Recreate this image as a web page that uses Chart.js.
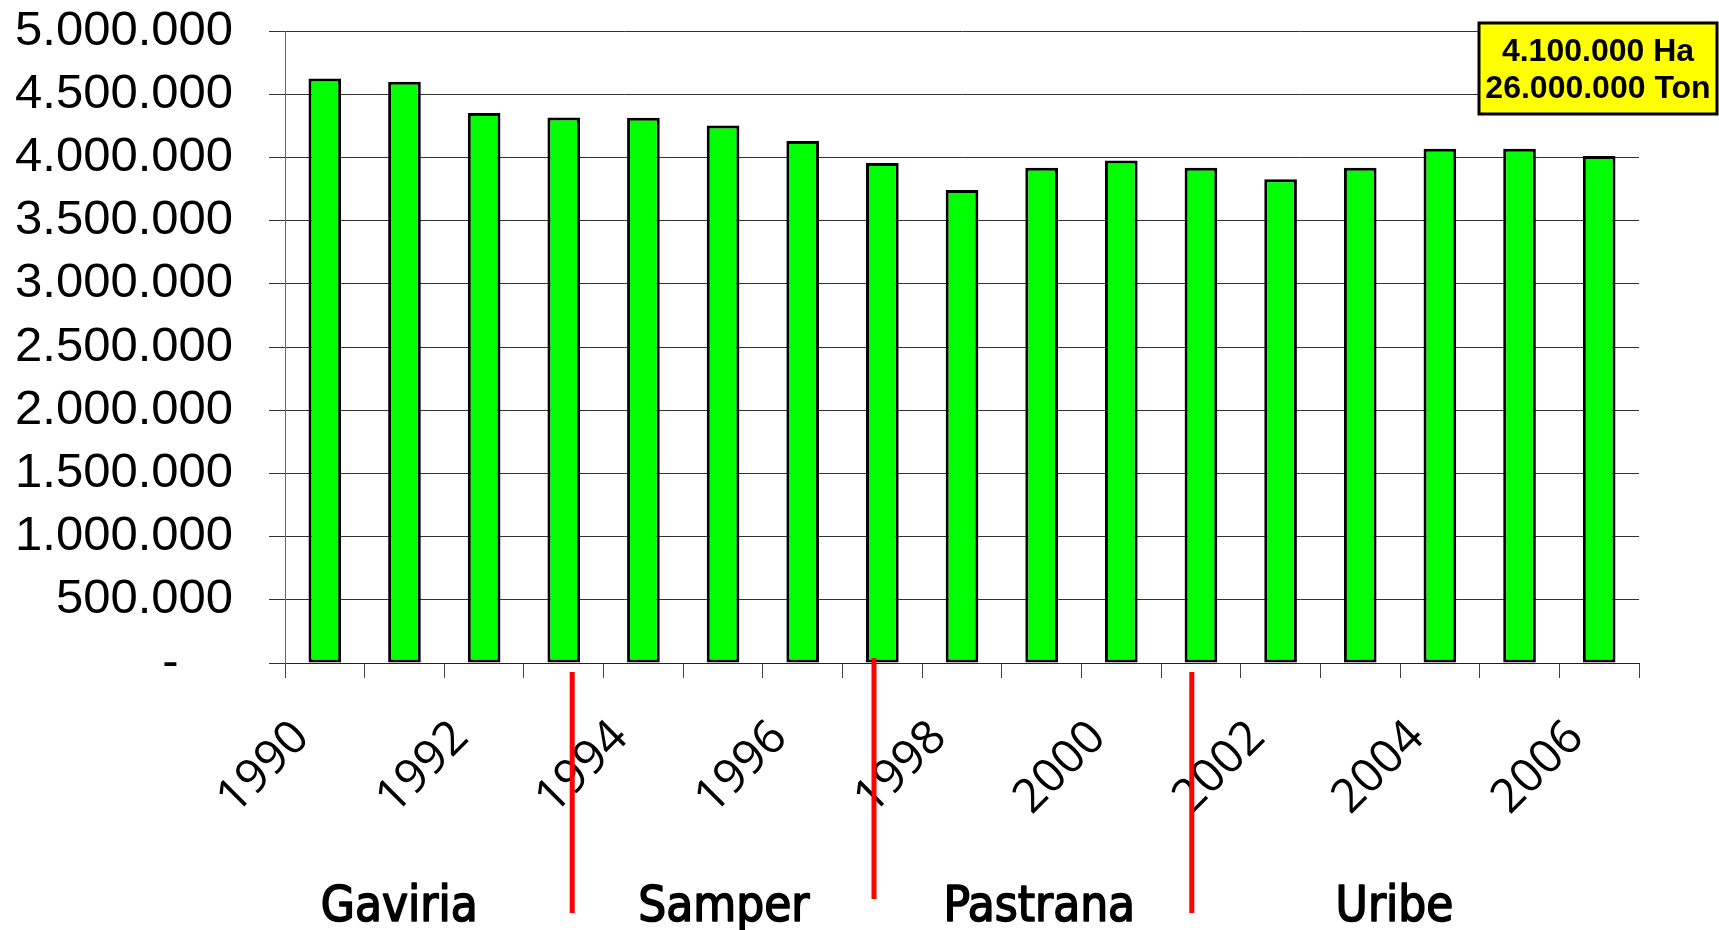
<!DOCTYPE html>
<html>
<head>
<meta charset="utf-8">
<script src="https://cdn.jsdelivr.net/npm/chart.js@4.4.0/dist/chart.umd.min.js"></script>
<style>
  html, body { margin: 0; padding: 0; background: #ffffff; }
  #wrap { width: 1719px; height: 930px; position: relative; }
</style>
</head>
<body>
<div id="wrap"><canvas id="c" width="1719" height="930"></canvas></div>
<script>
// ---- data ----
const years = ['1990','1991','1992','1993','1994','1995','1996','1997','1998','1999','2000','2001','2002','2003','2004','2005','2006'];
const hectares = [4625000, 4598000, 4352000, 4315000, 4313000, 4253000, 4130000, 3955000, 3742000, 3918000, 3976000, 3918000, 3828000, 3918000, 4068000, 4068000, 4012000];
const yMin = 0;
const yMax = 5000000;
const yStep = 500000;
const presidents = ['Gaviria', 'Samper', 'Pastrana', 'Uribe'];
const presidentCenters = [1.435, 5.51, 9.47, 13.93];   // in category units
const periodBreaks = [3.606, 7.395, 11.385];          // in category units
const boxLines = ['4.100.000 Ha', '26.000.000 Ton'];

function fmt(v) {
  if (v === 0) return '-    ';
  return String(Math.round(v)).replace(/\B(?=(\d{3})+(?!\d))/g, '.');
}

const overlay = {
  id: 'overlay',
  afterDraw(chart) {
    const ctx = chart.ctx;
    const xs = chart.scales.x;
    const ca = chart.chartArea;
    const n = years.length;
    const cw = xs.width / n;
    const toX = (u) => xs.left + u * cw;

    // red period dividers
    const ext = [[9, 250], [-5, 236], [9, 250]];
    ctx.save();
    ctx.strokeStyle = '#ff0000';
    ctx.lineWidth = 5;
    periodBreaks.forEach((b, i) => {
      const x = toX(b);
      ctx.beginPath();
      ctx.moveTo(x, ca.bottom + ext[i][0]);
      ctx.lineTo(x, ca.bottom + ext[i][1]);
      ctx.stroke();
    });
    ctx.restore();

    // president names
    ctx.save();
    ctx.fillStyle = '#000';
    ctx.strokeStyle = '#000';
    ctx.lineWidth = 1.6;
    ctx.lineJoin = 'round';
    ctx.font = "49px 'DejaVu Sans Condensed', 'DejaVu Sans'";
    ctx.textAlign = 'center';
    ctx.textBaseline = 'alphabetic';
    presidents.forEach((p, i) => {
      const x = toX(presidentCenters[i]);
      ctx.fillText(p, x, ca.bottom + 258);
      ctx.strokeText(p, x, ca.bottom + 258);
    });
    ctx.restore();

    // yellow info box
    ctx.save();
    const bx = 1479, by = 23, bw = 238, bh = 91;
    ctx.fillStyle = '#ffff00';
    ctx.fillRect(bx, by, bw, bh);
    ctx.strokeStyle = '#000';
    ctx.lineWidth = 3;
    ctx.strokeRect(bx, by, bw, bh);
    ctx.fillStyle = '#000';
    ctx.font = "bold 32px 'Liberation Sans', Arial, sans-serif";
    ctx.textAlign = 'center';
    ctx.textBaseline = 'alphabetic';
    ctx.fillText(boxLines[0], bx + bw / 2, by + 38);
    ctx.fillText(boxLines[1], bx + bw / 2, by + 75);
    ctx.restore();
  }
};

new Chart(document.getElementById('c'), {
  type: 'bar',
  data: {
    labels: years,
    datasets: [{
      data: hectares,
      backgroundColor: '#00ff00',
      borderColor: '#000000',
      borderWidth: 3,
      borderSkipped: false,
      categoryPercentage: 1.0,
      barPercentage: 0.41
    }]
  },
  options: {
    responsive: false,
    animation: false,
    layout: { padding: { top: 31, right: 80, bottom: 0, left: 0 } },
    plugins: { legend: { display: false }, tooltip: { enabled: false } },
    scales: {
      x: {
        offset: true,
        grid: { offset: true, drawOnChartArea: false, drawTicks: true, tickLength: 15, color: '#444', lineWidth: 1 },
        border: { display: true, color: '#222', width: 1 },
        ticks: {
          autoSkip: false,
          maxRotation: 45,
          minRotation: 45,
          labelOffset: -23,
          padding: 32,
          color: '#000',
          font: { family: "'Open Sans', 'Noto Sans', sans-serif", size: 47 },
          callback: function(v, i) { return i % 2 === 0 ? years[i] : ''; }
        },
        afterFit: function(s) { s.height = 267; }
      },
      y: {
        min: yMin,
        max: yMax,
        grid: { color: '#333', lineWidth: 1, tickLength: 16 },
        border: { display: true, color: '#666', width: 1 },
        ticks: {
          autoSkip: false,
          stepSize: yStep,
          padding: 36,
          color: '#000',
          font: { family: "'Liberation Sans', Arial, sans-serif", size: 49 },
          callback: function(v) { return fmt(v); }
        },
        afterFit: function(s) { s.width = 285; s.paddingTop = 0; s.paddingBottom = 0; }
      }
    }
  },
  plugins: [overlay]
});
</script>
</body>
</html>
